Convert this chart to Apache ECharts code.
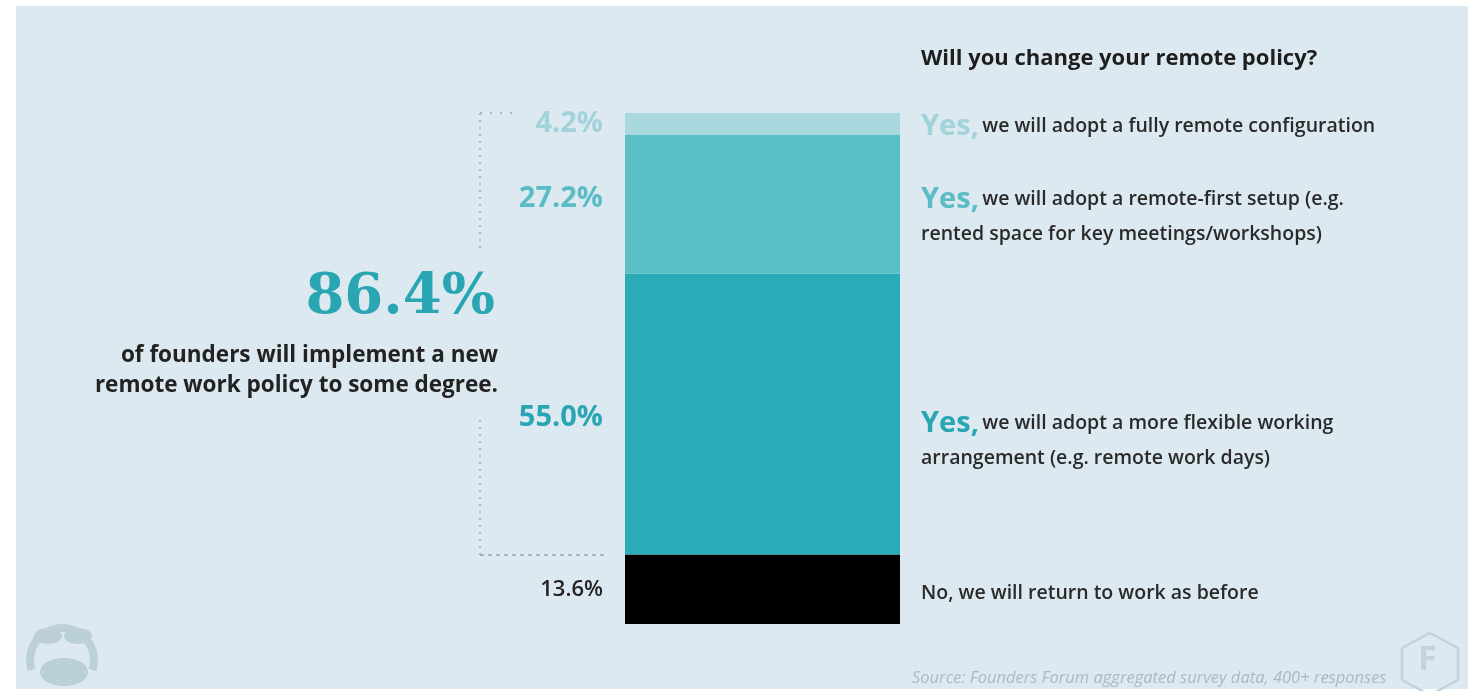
<!DOCTYPE html>
<html>
<head>
<meta charset="utf-8">
<script src="https://cdn.jsdelivr.net/npm/echarts@6/dist/echarts.min.js"></script>
<style>
html,body{margin:0;padding:0;background:#ffffff;}
#c{position:absolute;left:0;top:0;width:1468px;height:691px;}
</style>
</head>
<body>
<div id="c"></div>
<script>
// ---- data ----
var categories = ['Remote policy'];
var seriesNames = [
  'No, we will return to work as before',
  'Yes, more flexible working arrangement',
  'Yes, remote-first setup',
  'Yes, fully remote configuration'
];
var seriesValues = [13.6, 55.0, 27.2, 4.2];
var headline = '86.4%';
var headlineText = ['of founders will implement a new', 'remote work policy to some degree.'];
var title = 'Will you change your remote policy?';
var answerLead = ['', 'Yes,', 'Yes,', 'Yes,'];
var answerText = [
  ['No, we will return to work as before'],
  ['we will adopt a more flexible working', 'arrangement (e.g. remote work days)'],
  ['we will adopt a remote-first setup (e.g.', 'rented space for key meetings/workshops)'],
  ['we will adopt a fully remote configuration']
];
var sourceText = 'Source: Founders Forum aggregated survey data, 400+ responses';

// ---- styles ----
var barColors = ['#000000', '#2aabb8', '#5bbfc7', '#a9d8df'];
var labelColors = ['#222222', '#2aa6b3', '#5bbcc5', '#a3d3da'];
var labelSizes = [22, 29, 29, 29];
var labelWeights = [600, 'bold', 'bold', 'bold'];
var labelOffsets = [[0, 0], [0, 4], [0, -5], [0, 0]];
var answerTop = [583, 409, 185, 112];

var chart = echarts.init(document.getElementById('c'), null, {renderer: 'canvas'});

var series = seriesValues.map(function (v, i) {
  return {
    name: seriesNames[i],
    type: 'bar',
    stack: 'all',
    barWidth: '100%',
    data: [v],
    itemStyle: {color: barColors[i]},
    label: {
      show: true,
      position: 'left',
      distance: 22,
      offset: labelOffsets[i],
      formatter: function (p) { return p.value.toFixed(1) + '%'; },
      color: labelColors[i],
      fontFamily: 'Open Sans',
      fontSize: labelSizes[i],
      fontWeight: labelWeights[i],
      letterSpacing: i === 0 ? -1 : -0.5
    },
    emphasis: {disabled: true},
    silent: true
  };
});

var graphics = [];
// background panel
graphics.push({type: 'rect', z: -10, left: 16, top: 6, shape: {width: 1452, height: 683}, style: {fill: '#dce9f0'}});
// title
graphics.push({type: 'text', left: 921, top: 48, style: {text: title, fill: '#1e1e1e', font: 'bold 22px "Open Sans"', letterSpacing: -0.3}});
// answers
answerText.forEach(function (lines, i) {
  var txt;
  if (answerLead[i]) {
    txt = '{y|' + answerLead[i] + '} {t|' + lines[0] + '}';
    if (lines[1]) txt += '\n{t|' + lines[1] + '}';
  } else {
    txt = '{t|' + lines[0] + '}';
  }
  graphics.push({
    type: 'text', left: 921, top: answerTop[i],
    style: {
      text: txt,
      rich: {
        y: {fill: labelColors[i], fontSize: 29, fontWeight: 'bold', fontFamily: 'Open Sans', height: 35, letterSpacing: -0.5},
        t: {fill: '#2a2a2a', fontSize: 19.5, fontWeight: 600, fontFamily: 'Open Sans', height: 35, letterSpacing: -0.6}
      }
    }
  });
});
// headline
graphics.push({type: 'text', right: 1468 - 495, top: 270, style: {text: headline, fill: '#2aa6b3', font: 'bold 56px "DejaVu Serif"', align: 'right', letterSpacing: -1}});
graphics.push({type: 'text', right: 1468 - 498, top: 344, style: {text: headlineText[0], fill: '#222222', font: 'bold 22.5px "Open Sans"', align: 'right', letterSpacing: -0.4}});
graphics.push({type: 'text', right: 1468 - 498, top: 374, style: {text: headlineText[1], fill: '#222222', font: 'bold 22.5px "Open Sans"', align: 'right', letterSpacing: -0.4}});
// dotted bracket
var dotStyle = {stroke: '#93a9b2', lineWidth: 1.5, lineDash: [2, 5]};
graphics.push({type: 'line', shape: {x1: 480, y1: 113, x2: 480, y2: 248}, style: dotStyle});
graphics.push({type: 'line', shape: {x1: 480, y1: 420, x2: 480, y2: 555}, style: dotStyle});
graphics.push({type: 'line', shape: {x1: 480, y1: 113, x2: 512, y2: 113}, style: {stroke: '#93a9b2', lineWidth: 1.5, lineDash: [2, 8]}});
graphics.push({type: 'line', shape: {x1: 480, y1: 555, x2: 606, y2: 555}, style: {stroke: '#93a9b2', lineWidth: 1.5, lineDash: [4, 4]}});
// source
graphics.push({type: 'text', left: 912, top: 670, style: {text: sourceText, fill: '#a9bac1', font: 'italic 16.5px "Open Sans"', letterSpacing: -0.4}});
// F logo
graphics.push({type: 'polygon', shape: {points: [[1430, 633], [1458, 648], [1458, 680], [1430, 695], [1402, 680], [1402, 648]]}, style: {fill: 'none', stroke: '#c3d3da', lineWidth: 2.5}});
graphics.push({type: 'text', left: 1418, top: 643, style: {text: 'F', fill: '#c3d3da', font: 'bold 34px "Open Sans"'}});
// moustache-like logo
graphics.push({type: 'arc', shape: {cx: 62, cy: 660, r: 32, startAngle: Math.PI * 0.9, endAngle: Math.PI * 2.1}, style: {stroke: '#bcd0d7', lineWidth: 8, fill: 'none'}});
graphics.push({type: 'ellipse', shape: {cx: 64, cy: 672, rx: 24, ry: 14}, style: {fill: '#bcd0d7'}});
graphics.push({type: 'ellipse', shape: {cx: 48, cy: 636, rx: 14, ry: 8}, style: {fill: '#bcd0d7'}});
graphics.push({type: 'ellipse', shape: {cx: 78, cy: 636, rx: 14, ry: 8}, style: {fill: '#bcd0d7'}});

chart.setOption({
  animation: false,
  backgroundColor: '#ffffff',
  grid: {left: 625, top: 113, width: 275, height: 511, containLabel: false},
  xAxis: {type: 'category', data: categories, show: false},
  yAxis: {type: 'value', min: 0, max: 100, show: false},
  series: series,
  graphic: graphics
});
</script>
</body>
</html>
